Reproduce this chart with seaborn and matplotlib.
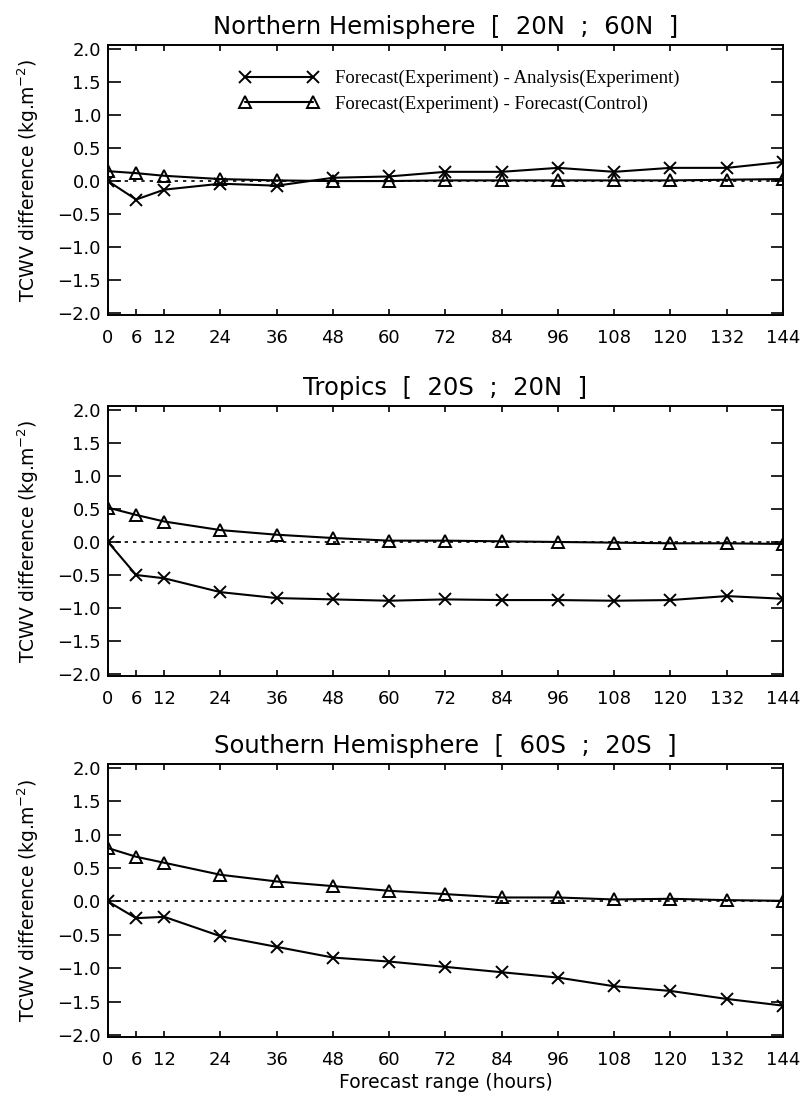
import matplotlib
matplotlib.use("Agg")
import matplotlib.pyplot as plt
import seaborn as sns

hours = [0, 6, 12, 24, 36, 48, 60, 72, 84, 96, 108, 120, 132, 144]

# Forecast(Experiment) - Analysis(Experiment)
nh_fa = [0.0, -0.28, -0.13, -0.04, -0.07, 0.05, 0.07, 0.14, 0.14, 0.20, 0.14, 0.20, 0.20, 0.29]
tr_fa = [0.0, -0.50, -0.55, -0.76, -0.85, -0.87, -0.89, -0.87, -0.88, -0.88, -0.89, -0.88, -0.82, -0.86]
sh_fa = [0.0, -0.25, -0.23, -0.52, -0.68, -0.84, -0.90, -0.98, -1.06, -1.14, -1.27, -1.34, -1.46, -1.56]

# Forecast(Experiment) - Forecast(Control)
nh_fc = [0.15, 0.12, 0.08, 0.03, 0.01, 0.0, 0.0, 0.01, 0.01, 0.01, 0.01, 0.01, 0.02, 0.03]
tr_fc = [0.52, 0.41, 0.31, 0.18, 0.11, 0.06, 0.02, 0.02, 0.01, 0.0, -0.01, -0.02, -0.02, -0.03]
sh_fc = [0.80, 0.67, 0.58, 0.40, 0.30, 0.23, 0.16, 0.11, 0.06, 0.06, 0.03, 0.04, 0.02, 0.01]

titles = ["Northern Hemisphere  [  20N  ;  60N  ]",
          "Tropics  [  20S  ;  20N  ]",
          "Southern Hemisphere  [  60S  ;  20S  ]"]
y_ticks = [-2.0, -1.5, -1.0, -0.5, 0.0, 0.5, 1.0, 1.5, 2.0]
lab_fa = "Forecast(Experiment) - Analysis(Experiment)"
lab_fc = "Forecast(Experiment) - Forecast(Control)"

sns.set_style("ticks")
plt.rcParams['font.family'] = ['DejaVu Sans']
plt.rcParams.update({'text.color': 'k', 'axes.labelcolor': 'k',
                     'xtick.color': 'k', 'ytick.color': 'k'})

fig = plt.figure(figsize=(8.01, 10.97), dpi=100)
boxes = [[0.1348, 0.7128, 0.8427, 0.2461],
         [0.1348, 0.3838, 0.8427, 0.2461],
         [0.1348, 0.0547, 0.8427, 0.2489]]

panels = [(nh_fa, nh_fc), (tr_fa, tr_fc), (sh_fa, sh_fc)]

for i, (fa, fc) in enumerate(panels):
    ax = fig.add_axes(boxes[i])
    ax.axhline(0, color='k', linestyle=(0, (2, 3)), linewidth=1.2)
    sns.lineplot(x=hours, y=fa, ax=ax, color='k', marker='x', markersize=8,
                 markeredgecolor='k', markeredgewidth=1.4, linewidth=1.5,
                 label=lab_fa if i == 0 else None)
    sns.lineplot(x=hours, y=fc, ax=ax, color='k', marker='^', markersize=8,
                 markerfacecolor='none', markeredgecolor='k', markeredgewidth=1.4,
                 linewidth=1.5, label=lab_fc if i == 0 else None)
    ax.set_xlim(0, 144)
    ax.set_ylim(-2.03, 2.06)
    ax.set_xticks(hours)
    ax.set_xticklabels([str(h) for h in hours])
    ax.set_yticks(y_ticks)
    ax.set_yticklabels([f"{v:.1f}".replace("-", "\u2212") for v in y_ticks])
    ax.tick_params(axis='y', direction='in', length=9, width=1.2, labelsize=13,
                   left=True, right=True, pad=5)
    ax.tick_params(axis='x', direction='in', length=4.5, width=1.2, labelsize=13,
                   bottom=True, top=True, pad=10)
    for sp in ax.spines.values():
        sp.set_visible(True)
        sp.set_linewidth(1.4)
        sp.set_color('k')
    ax.set_title(titles[i], fontsize=17.5, pad=8)
    ax.set_ylabel(r"TCWV difference (kg.m$^{-2}$)", fontsize=13.5, labelpad=12)
    if i == 0:
        ax.legend(loc='upper left', bbox_to_anchor=(0.17, 0.97), frameon=False,
                  numpoints=2, handlelength=4.2, handletextpad=0.9, labelspacing=0.45,
                  prop={'family': 'Liberation Serif', 'size': 13.5})
    elif ax.get_legend() is not None:
        ax.get_legend().remove()
    if i == 2:
        ax.set_xlabel("Forecast range (hours)", fontsize=13.5, labelpad=3)

fig.savefig("out.png", dpi=100)
